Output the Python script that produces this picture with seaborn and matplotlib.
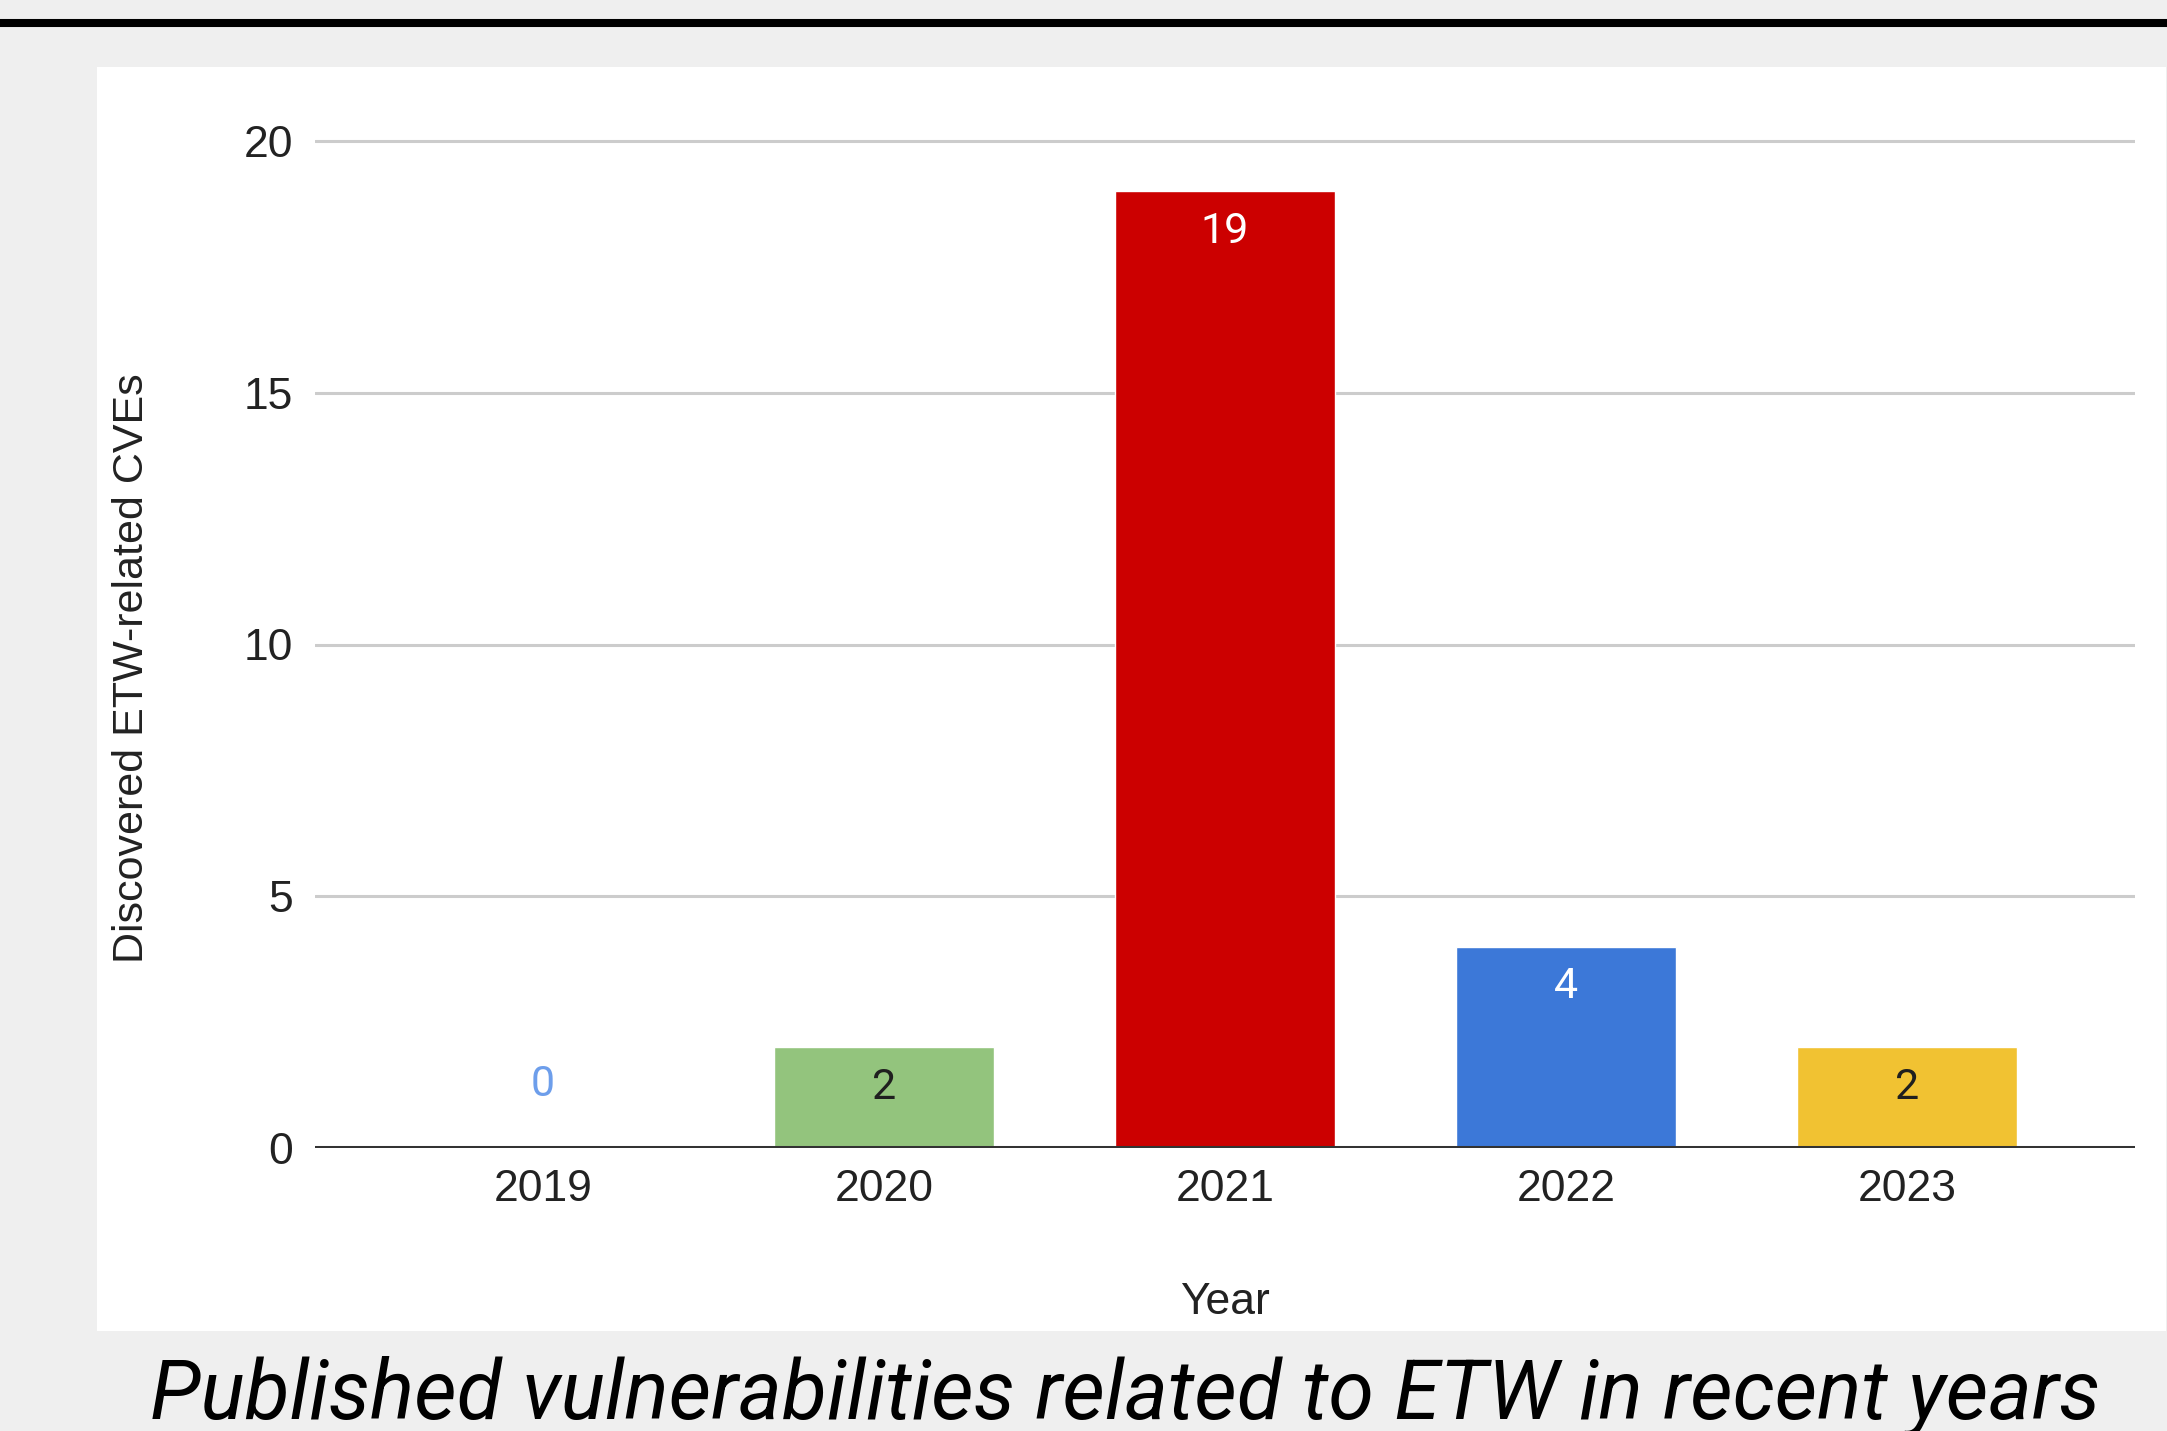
import numpy as np
import matplotlib
matplotlib.use('Agg')
import matplotlib.pyplot as plt
import seaborn as sns
from matplotlib.patches import Rectangle
from matplotlib.lines import Line2D

# Data
years = ['2019', '2020', '2021', '2022', '2023']
cves = [0, 2, 19, 4, 2]
bar_colors = ['#6d9eeb', '#93c47d', '#cc0000', '#3c78d8', '#f1c232']
label_colors = ['#6d9eeb', '#1f1f1f', '#ffffff', '#ffffff', '#1f1f1f']

W, H = 2167, 1431
sns.set_theme(style='white')
plt.rcParams['font.family'] = ['Liberation Sans', 'DejaVu Sans']

fig = plt.figure(figsize=(W / 100, H / 100), dpi=100, facecolor='#efefef')

# white chart panel and dark rule at the top
fig.patches.append(Rectangle((97 / W, 1 - 1331 / H), (2166 - 97) / W, (1331 - 67) / H,
                             transform=fig.transFigure, facecolor='white', edgecolor='none', zorder=-10))
fig.lines.append(Line2D([0, 1], [1 - 23 / H, 1 - 23 / H], transform=fig.transFigure,
                        color='black', linewidth=5.8))

# axes placement: y=0 at 1148 px, y=20 at 141 px
unit = (1148 - 141) / 20
top_px = 141 - 0.5 * unit
ax = fig.add_axes([315 / W, 1 - 1148 / H, (2135 - 315) / W, (1148 - top_px) / H])
ax.set_facecolor('none')

sns.barplot(x=years, y=cves, hue=years, palette=bar_colors, legend=False,
            width=0.645, saturation=1, ax=ax)

ax.set_ylim(0, 20.5)
ax.set_xlim(-0.669, 4.669)
ax.set_yticks([0, 5, 10, 15, 20])
ax.yaxis.grid(True, color='#cccccc', linewidth=2.2)
ax.set_axisbelow(True)
for s in ax.spines.values():
    s.set_visible(False)
ax.axhline(0, color='#333333', linewidth=2.9, zorder=3)

ax.tick_params(axis='both', length=0, labelsize=32, colors='#222222')
ax.tick_params(axis='y', pad=16)
ax.tick_params(axis='x', pad=15)

ax.set_xlabel('Year', fontsize=32, color='#222222', labelpad=52)
ax.set_ylabel('Discovered ETW-related CVEs', fontsize=31, color='#222222')
ax.yaxis.set_label_coords((152 - 315) / (2135 - 315), (1148 - 668) / (1148 - top_px))

for i, v in enumerate(cves):
    off = 64 if v == 0 else -40
    ax.annotate(str(v), (i, v), xytext=(0, off), textcoords='offset pixels',
                ha='center', va='center', fontsize=31, color=label_colors[i],
                family=['Roboto', 'DejaVu Sans'])

fig.text(1125 / W, 1 - 1419 / H, 'Published vulnerabilities related to ETW in recent years',
         ha='center', va='baseline', fontsize=59.5, style='italic', color='black',
         family=['Roboto', 'DejaVu Sans'])

fig.savefig('out.png', dpi=100, facecolor=fig.get_facecolor())
